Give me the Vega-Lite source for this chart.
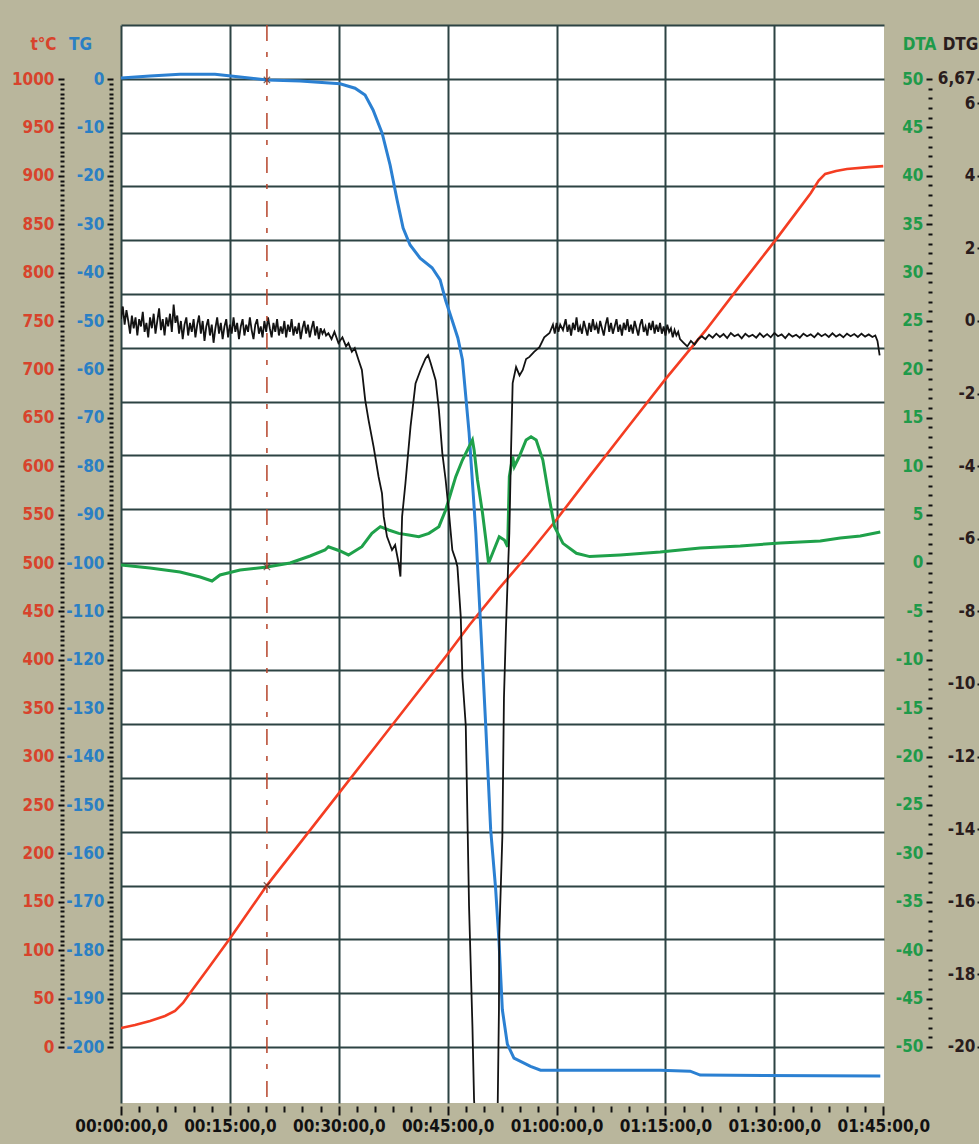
{
  "$schema": "https://vega.github.io/schema/vega-lite/v6.json",
  "width": 763,
  "height": 1078,
  "autosize": "none",
  "padding": {"left": 121, "top": 25, "right": 95, "bottom": 41},
  "background": "#b9b69c",
  "config": {
    "view": {"fill": "#ffffff", "stroke": null},
    "axis": {
      "labelFont": "Liberation Sans Narrow, Arial Narrow, DejaVu Sans Condensed, sans-serif",
      "labelFontWeight": "bold",
      "labelFontSize": 17,
      "titleFont": "Liberation Sans Narrow, Arial Narrow, DejaVu Sans Condensed, sans-serif",
      "titleFontWeight": "bold",
      "titleFontSize": 17
    }
  },
  "datasets": {
    "temp": [
      {"t": 0, "v": 19.6}, {"t": 1.93, "v": 22.7}, {"t": 4.0, "v": 26.9}, {"t": 6.06, "v": 32.0},
      {"t": 7.44, "v": 37.2}, {"t": 8.54, "v": 45.5}, {"t": 9.51, "v": 55.8}, {"t": 12, "v": 81},
      {"t": 15, "v": 112}, {"t": 20.1, "v": 167}, {"t": 25, "v": 214}, {"t": 30, "v": 262},
      {"t": 35, "v": 310}, {"t": 40, "v": 358}, {"t": 45, "v": 406}, {"t": 48, "v": 436},
      {"t": 52, "v": 473}, {"t": 56, "v": 508}, {"t": 60, "v": 545}, {"t": 64.6, "v": 590},
      {"t": 70, "v": 642}, {"t": 75, "v": 690}, {"t": 80.5, "v": 740}, {"t": 85, "v": 784},
      {"t": 90, "v": 832}, {"t": 93, "v": 862}, {"t": 95, "v": 882}, {"t": 96.1, "v": 895},
      {"t": 97.0, "v": 902}, {"t": 98.5, "v": 905}, {"t": 100, "v": 907}, {"t": 103, "v": 909},
      {"t": 105, "v": 910}
    ],
    "tg": [
      {"t": 0, "v": 0.2}, {"t": 4.0, "v": 0.6}, {"t": 8.13, "v": 1.0}, {"t": 12.95, "v": 1.0},
      {"t": 16.4, "v": 0.4}, {"t": 20.12, "v": -0.2}, {"t": 24.67, "v": -0.4}, {"t": 30.18, "v": -1.0},
      {"t": 32.24, "v": -1.9}, {"t": 33.62, "v": -3.3}, {"t": 34.72, "v": -6.4}, {"t": 35.97, "v": -11.2},
      {"t": 37.07, "v": -17.8}, {"t": 38.03, "v": -25.0}, {"t": 38.86, "v": -30.8}, {"t": 39.82, "v": -34.3},
      {"t": 41.2, "v": -37.0}, {"t": 42.85, "v": -39.0}, {"t": 43.96, "v": -41.5}, {"t": 44.71, "v": -45.7},
      {"t": 45.6, "v": -49.8}, {"t": 46.4, "v": -53.5}, {"t": 47.03, "v": -58.0}, {"t": 47.95, "v": -73.1}, {"t": 48.88, "v": -93.8},
      {"t": 49.57, "v": -113.8}, {"t": 50.24, "v": -133.6}, {"t": 50.92, "v": -155.1}, {"t": 51.6, "v": -167.2},
      {"t": 52.06, "v": -178.0}, {"t": 52.53, "v": -192.3}, {"t": 53.22, "v": -199.4}, {"t": 54.13, "v": -202.3},
      {"t": 56.41, "v": -204.0}, {"t": 57.79, "v": -204.8}, {"t": 61.87, "v": -204.8}, {"t": 74.27, "v": -204.8},
      {"t": 78.4, "v": -205.0}, {"t": 79.78, "v": -205.8}, {"t": 104.59, "v": -206.0}
    ],
    "dta": [
      {"t": 0, "v": -0.21}, {"t": 4.0, "v": -0.52}, {"t": 8.13, "v": -0.93}, {"t": 10.9, "v": -1.45},
      {"t": 12.54, "v": -1.86}, {"t": 13.64, "v": -1.24}, {"t": 16.4, "v": -0.72}, {"t": 20.12, "v": -0.41},
      {"t": 23.29, "v": 0.0}, {"t": 26.04, "v": 0.72}, {"t": 28.1, "v": 1.34}, {"t": 28.57, "v": 1.68},
      {"t": 30.18, "v": 1.24}, {"t": 31.33, "v": 0.83}, {"t": 33.18, "v": 1.68}, {"t": 34.56, "v": 3.06},
      {"t": 35.72, "v": 3.75}, {"t": 36.87, "v": 3.41}, {"t": 38.25, "v": 3.06}, {"t": 39.64, "v": 2.89},
      {"t": 41.02, "v": 2.72}, {"t": 42.41, "v": 3.06}, {"t": 43.79, "v": 3.75}, {"t": 44.72, "v": 5.47},
      {"t": 45.42, "v": 7.2}, {"t": 46.11, "v": 8.92}, {"t": 47.03, "v": 10.64}, {"t": 47.72, "v": 11.67},
      {"t": 48.41, "v": 12.71}, {"t": 48.64, "v": 11.67}, {"t": 49.11, "v": 8.57}, {"t": 49.8, "v": 5.13},
      {"t": 50.26, "v": 2.38}, {"t": 50.63, "v": -0.03}, {"t": 51.18, "v": 1.0}, {"t": 52.1, "v": 2.72},
      {"t": 52.8, "v": 2.38}, {"t": 53.26, "v": 1.68}, {"t": 53.49, "v": 8.92}, {"t": 53.95, "v": 11.0},
      {"t": 54.18, "v": 9.95}, {"t": 54.87, "v": 11.0}, {"t": 55.8, "v": 12.71}, {"t": 56.48, "v": 13.05},
      {"t": 57.19, "v": 12.71}, {"t": 58.11, "v": 10.64}, {"t": 59.03, "v": 6.51}, {"t": 59.72, "v": 3.75},
      {"t": 60.88, "v": 2.03}, {"t": 62.73, "v": 1.0}, {"t": 64.57, "v": 0.66}, {"t": 68.76, "v": 0.83},
      {"t": 74.27, "v": 1.14}, {"t": 79.78, "v": 1.55}, {"t": 85.3, "v": 1.76}, {"t": 90.81, "v": 2.07},
      {"t": 96.32, "v": 2.27}, {"t": 99.08, "v": 2.58}, {"t": 101.83, "v": 2.79}, {"t": 104.59, "v": 3.2}
    ],
    "dtg": [
      {"t": 0, "v": 0.05}, {"t": 0.25, "v": 0.4}, {"t": 0.5, "v": -0.1}, {"t": 0.75, "v": 0.3},
      {"t": 1.0, "v": 0.0}, {"t": 1.25, "v": -0.35}, {"t": 1.5, "v": 0.15}, {"t": 1.75, "v": -0.2},
      {"t": 2.0, "v": 0.1}, {"t": 2.25, "v": -0.4}, {"t": 2.5, "v": 0.05}, {"t": 2.75, "v": -0.15},
      {"t": 3.0, "v": 0.25}, {"t": 3.25, "v": -0.3}, {"t": 3.5, "v": -0.05}, {"t": 3.75, "v": -0.45},
      {"t": 4.0, "v": 0.1}, {"t": 4.25, "v": -0.2}, {"t": 4.5, "v": 0.2}, {"t": 4.75, "v": -0.35},
      {"t": 5.0, "v": 0.0}, {"t": 5.25, "v": 0.35}, {"t": 5.5, "v": -0.25}, {"t": 5.75, "v": 0.05},
      {"t": 6.0, "v": -0.4}, {"t": 6.25, "v": 0.1}, {"t": 6.5, "v": -0.15}, {"t": 6.75, "v": 0.2},
      {"t": 7.0, "v": -0.3}, {"t": 7.25, "v": 0.45}, {"t": 7.5, "v": -0.05}, {"t": 7.75, "v": 0.15},
      {"t": 8.0, "v": -0.35}, {"t": 8.25, "v": 0.0}, {"t": 8.5, "v": -0.5}, {"t": 8.75, "v": -0.1},
      {"t": 9.0, "v": 0.1}, {"t": 9.25, "v": -0.4}, {"t": 9.5, "v": -0.05}, {"t": 9.75, "v": -0.3},
      {"t": 10.0, "v": 0.05}, {"t": 10.25, "v": -0.45}, {"t": 10.5, "v": -0.1}, {"t": 10.75, "v": 0.15},
      {"t": 11.0, "v": -0.35}, {"t": 11.25, "v": 0.0}, {"t": 11.5, "v": -0.55}, {"t": 11.75, "v": -0.15},
      {"t": 12.0, "v": 0.05}, {"t": 12.25, "v": -0.4}, {"t": 12.5, "v": -0.1}, {"t": 12.75, "v": -0.6},
      {"t": 13.0, "v": -0.2}, {"t": 13.25, "v": 0.1}, {"t": 13.5, "v": -0.35}, {"t": 13.75, "v": -0.05},
      {"t": 14.0, "v": -0.5}, {"t": 14.25, "v": -0.15}, {"t": 14.5, "v": 0.05}, {"t": 14.75, "v": -0.45},
      {"t": 15.0, "v": -0.1}, {"t": 15.25, "v": -0.35}, {"t": 15.5, "v": 0.1}, {"t": 15.75, "v": -0.3},
      {"t": 16.0, "v": -0.05}, {"t": 16.25, "v": -0.5}, {"t": 16.5, "v": -0.15}, {"t": 16.75, "v": 0.05},
      {"t": 17.0, "v": -0.4}, {"t": 17.25, "v": -0.1}, {"t": 17.5, "v": -0.3}, {"t": 17.75, "v": 0.1},
      {"t": 18.0, "v": -0.25}, {"t": 18.25, "v": -0.5}, {"t": 18.5, "v": -0.1}, {"t": 18.75, "v": 0.05},
      {"t": 19.0, "v": -0.35}, {"t": 19.25, "v": -0.15}, {"t": 19.5, "v": -0.45}, {"t": 19.75, "v": 0.0},
      {"t": 20.0, "v": -0.3}, {"t": 20.25, "v": 0.1}, {"t": 20.5, "v": -0.2}, {"t": 20.75, "v": -0.45},
      {"t": 21.0, "v": -0.05}, {"t": 21.25, "v": -0.3}, {"t": 21.5, "v": 0.05}, {"t": 21.75, "v": -0.4},
      {"t": 22.0, "v": -0.15}, {"t": 22.25, "v": -0.35}, {"t": 22.5, "v": 0.0}, {"t": 22.75, "v": -0.45},
      {"t": 23.0, "v": -0.1}, {"t": 23.25, "v": -0.3}, {"t": 23.5, "v": 0.05}, {"t": 23.75, "v": -0.4},
      {"t": 24.0, "v": -0.15}, {"t": 24.25, "v": -0.35}, {"t": 24.5, "v": -0.05}, {"t": 24.75, "v": -0.5},
      {"t": 25.0, "v": -0.2}, {"t": 25.25, "v": 0.0}, {"t": 25.5, "v": -0.35}, {"t": 25.75, "v": -0.1},
      {"t": 26.0, "v": -0.45}, {"t": 26.25, "v": -0.2}, {"t": 26.5, "v": 0.0}, {"t": 26.75, "v": -0.4},
      {"t": 27.0, "v": -0.15}, {"t": 27.25, "v": -0.5}, {"t": 27.5, "v": -0.2}, {"t": 27.75, "v": -0.35},
      {"t": 28.0, "v": -0.25}, {"t": 28.25, "v": -0.4}, {"t": 28.57, "v": -0.34}, {"t": 29.0, "v": -0.5},
      {"t": 29.4, "v": -0.3}, {"t": 29.95, "v": -0.61}, {"t": 30.5, "v": -0.45}, {"t": 31.0, "v": -0.7},
      {"t": 31.33, "v": -0.61}, {"t": 31.8, "v": -0.85}, {"t": 32.2, "v": -0.75},
      {"t": 32.71, "v": -1.07}, {"t": 33.18, "v": -1.35}, {"t": 33.64, "v": -2.18},
      {"t": 34.1, "v": -2.73}, {"t": 34.79, "v": -3.46}, {"t": 35.48, "v": -4.29}, {"t": 35.95, "v": -4.75},
      {"t": 36.19, "v": -5.39}, {"t": 36.64, "v": -5.94}, {"t": 37.33, "v": -6.31}, {"t": 37.76, "v": -6.17},
      {"t": 38.25, "v": -6.68}, {"t": 38.49, "v": -7.04}, {"t": 38.72, "v": -5.39}, {"t": 39.18, "v": -4.47},
      {"t": 39.88, "v": -2.91}, {"t": 40.57, "v": -1.72}, {"t": 41.26, "v": -1.35}, {"t": 41.95, "v": -1.03},
      {"t": 42.3, "v": -0.94}, {"t": 42.65, "v": -1.16}, {"t": 43.34, "v": -1.63}, {"t": 43.79, "v": -2.45},
      {"t": 44.26, "v": -3.64}, {"t": 44.72, "v": -4.38}, {"t": 45.18, "v": -5.3}, {"t": 45.64, "v": -6.31},
      {"t": 46.1, "v": -6.58}, {"t": 46.34, "v": -6.77}, {"t": 46.8, "v": -8.15}, {"t": 47.03, "v": -9.82},
      {"t": 47.49, "v": -11.15}, {"t": 47.94, "v": -16.11}, {"t": 48.41, "v": -19.44}, {"t": 48.63, "v": -21.44},
      {"t": 48.92, "v": -22.56}, {"t": 50.3, "v": -23.1}, {"t": 51.84, "v": -22.56}, {"t": 51.9, "v": -21.44},
      {"t": 52.06, "v": -18.97}, {"t": 52.1, "v": -16.97}, {"t": 52.53, "v": -14.2}, {"t": 52.75, "v": -10.39},
      {"t": 53.02, "v": -8.51}, {"t": 53.22, "v": -7.34}, {"t": 53.49, "v": -5.84}, {"t": 53.73, "v": -3.55},
      {"t": 53.95, "v": -1.71}, {"t": 54.42, "v": -1.27}, {"t": 54.9, "v": -1.5}, {"t": 55.34, "v": -1.35},
      {"t": 55.8, "v": -1.05}, {"t": 56.26, "v": -0.99}, {"t": 56.9, "v": -0.85}, {"t": 57.64, "v": -0.72},
      {"t": 58.3, "v": -0.45}, {"t": 59.03, "v": -0.33}, {"t": 59.5, "v": -0.1}, {"t": 59.75, "v": -0.35},
      {"t": 60.0, "v": -0.05}, {"t": 60.25, "v": -0.3}, {"t": 60.5, "v": -0.1}, {"t": 60.88, "v": -0.25},
      {"t": 61.25, "v": 0.05}, {"t": 61.5, "v": -0.3}, {"t": 61.75, "v": -0.1}, {"t": 62.0, "v": -0.4},
      {"t": 62.25, "v": -0.05}, {"t": 62.5, "v": -0.25}, {"t": 62.75, "v": 0.1}, {"t": 63.0, "v": -0.3},
      {"t": 63.25, "v": -0.15}, {"t": 63.5, "v": -0.35}, {"t": 63.75, "v": 0.0}, {"t": 64.0, "v": -0.2},
      {"t": 64.25, "v": -0.4}, {"t": 64.5, "v": -0.05}, {"t": 64.75, "v": -0.3}, {"t": 65.0, "v": 0.05},
      {"t": 65.25, "v": -0.25}, {"t": 65.5, "v": -0.1}, {"t": 65.75, "v": -0.35}, {"t": 66.0, "v": 0.0},
      {"t": 66.25, "v": -0.2}, {"t": 66.5, "v": -0.4}, {"t": 66.75, "v": -0.1}, {"t": 67.0, "v": 0.1},
      {"t": 67.25, "v": -0.3}, {"t": 67.5, "v": -0.05}, {"t": 67.75, "v": -0.35}, {"t": 68.0, "v": -0.15},
      {"t": 68.25, "v": 0.05}, {"t": 68.5, "v": -0.3}, {"t": 68.75, "v": -0.1}, {"t": 69.0, "v": -0.4},
      {"t": 69.25, "v": -0.05}, {"t": 69.5, "v": -0.25}, {"t": 69.75, "v": 0.05}, {"t": 70.0, "v": -0.3},
      {"t": 70.25, "v": -0.1}, {"t": 70.5, "v": -0.35}, {"t": 70.75, "v": 0.0}, {"t": 71.0, "v": -0.2},
      {"t": 71.25, "v": -0.4}, {"t": 71.5, "v": -0.1}, {"t": 71.75, "v": 0.05}, {"t": 72.0, "v": -0.3},
      {"t": 72.25, "v": -0.15}, {"t": 72.5, "v": -0.4}, {"t": 72.75, "v": -0.05}, {"t": 73.0, "v": -0.25},
      {"t": 73.25, "v": 0.0}, {"t": 73.5, "v": -0.35}, {"t": 73.75, "v": -0.1}, {"t": 74.0, "v": -0.3},
      {"t": 74.25, "v": -0.05}, {"t": 74.5, "v": -0.35}, {"t": 74.75, "v": -0.15}, {"t": 75.0, "v": -0.4},
      {"t": 75.25, "v": -0.1}, {"t": 75.5, "v": -0.3}, {"t": 75.75, "v": -0.2}, {"t": 76.0, "v": -0.45},
      {"t": 76.25, "v": -0.25}, {"t": 76.5, "v": -0.4}, {"t": 76.75, "v": -0.3}, {"t": 77.0, "v": -0.5},
      {"t": 77.5, "v": -0.6}, {"t": 78.0, "v": -0.7}, {"t": 78.5, "v": -0.55}, {"t": 79.0, "v": -0.65},
      {"t": 79.5, "v": -0.5}, {"t": 80.0, "v": -0.42}, {"t": 80.5, "v": -0.5}, {"t": 81.0, "v": -0.38},
      {"t": 81.5, "v": -0.46}, {"t": 82.0, "v": -0.35}, {"t": 82.5, "v": -0.44}, {"t": 83.0, "v": -0.36},
      {"t": 83.5, "v": -0.47}, {"t": 84.0, "v": -0.33}, {"t": 84.5, "v": -0.42}, {"t": 85.0, "v": -0.37},
      {"t": 85.5, "v": -0.48}, {"t": 86.0, "v": -0.35}, {"t": 86.5, "v": -0.43}, {"t": 87.0, "v": -0.38},
      {"t": 87.5, "v": -0.46}, {"t": 88.0, "v": -0.34}, {"t": 88.5, "v": -0.44}, {"t": 89.0, "v": -0.36},
      {"t": 89.5, "v": -0.45}, {"t": 90.0, "v": -0.33}, {"t": 90.5, "v": -0.42}, {"t": 91.0, "v": -0.37},
      {"t": 91.5, "v": -0.47}, {"t": 92.0, "v": -0.35}, {"t": 92.5, "v": -0.43}, {"t": 93.0, "v": -0.38},
      {"t": 93.5, "v": -0.46}, {"t": 94.0, "v": -0.35}, {"t": 94.5, "v": -0.42}, {"t": 95.0, "v": -0.37},
      {"t": 95.5, "v": -0.45}, {"t": 96.0, "v": -0.34}, {"t": 96.5, "v": -0.42}, {"t": 97.0, "v": -0.36},
      {"t": 97.5, "v": -0.44}, {"t": 98.0, "v": -0.34}, {"t": 98.5, "v": -0.43}, {"t": 99.0, "v": -0.37},
      {"t": 99.5, "v": -0.45}, {"t": 100.0, "v": -0.35}, {"t": 100.5, "v": -0.42}, {"t": 101.0, "v": -0.36},
      {"t": 101.5, "v": -0.44}, {"t": 102.0, "v": -0.35}, {"t": 102.5, "v": -0.43}, {"t": 103.0, "v": -0.37},
      {"t": 103.5, "v": -0.44}, {"t": 103.9, "v": -0.4}, {"t": 104.2, "v": -0.55}, {"t": 104.5, "v": -0.95}
    ]
  },
  "encoding": {
    "x": {
      "field": "t",
      "type": "quantitative",
      "scale": {"domain": [0, 105.1], "nice": false, "zero": false},
      "axis": {
        "orient": "bottom",
        "offset": 3,
        "domain": false,
        "values": [0, 2.5, 5, 7.5, 10, 12.5, 15, 17.5, 20, 22.5, 25, 27.5, 30, 32.5, 35, 37.5, 40, 42.5, 45, 47.5, 50, 52.5, 55, 57.5, 60, 62.5, 65, 67.5, 70, 72.5, 75, 77.5, 80, 82.5, 85, 87.5, 90, 92.5, 95, 97.5, 100, 102.5, 105],
        "grid": true,
        "gridColor": "#2c4343",
        "gridWidth": 2,
        "gridOpacity": {"condition": {"test": "datum.value % 15 === 0 && datum.value < 105", "value": 1}, "value": 0},
        "tickColor": "#111111",
        "tickWidth": 2,
        "tickSize": {"condition": {"test": "datum.value % 15 === 0", "value": 9}, "value": 6},
        "labelExpr": "datum.value % 15 === 0 ? ((datum.value < 600 ? '0' : '') + floor(datum.value / 60) + ':' + (datum.value % 60 < 10 ? '0' : '') + (datum.value % 60) + ':00,0') : ''",
        "labelColor": "#111111",
        "labelPadding": 3,
        "labelOverlap": false,
        "labelFlush": false,
        "labelBound": false,
        "title": null
      }
    }
  },
  "layer": [
    {
      "data": {"values": [{"t": 50, "g": 5}]},
      "mark": {"type": "point", "opacity": 0},
      "encoding": {
        "y": {
          "field": "g",
          "type": "quantitative",
          "scale": {"domain": [-1.041, 19], "nice": false, "zero": false},
          "axis": {
            "orient": "left",
            "grid": true,
            "labels": false,
            "ticks": false,
            "domain": false,
            "tickCount": 20,
            "gridColor": "#2c4343",
            "gridWidth": 2,
            "gridOpacity": {"condition": {"test": "datum.value < 0", "value": 0}, "value": 1},
            "title": null
          }
        }
      }
    },
    {
      "data": {"name": "temp"},
      "layer": [
        {
          "mark": {"type": "line", "color": "#f43d22", "strokeWidth": 2.6, "clip": true},
          "encoding": {
            "y": {
              "field": "v",
              "type": "quantitative",
              "scale": {"domain": [-57.85, 1055.8], "nice": false, "zero": false},
              "axis": {
                "orient": "left",
                "offset": 57,
                "domain": false,
                "grid": false,
                "tickCount": 222,
                "tickColor": "#111111",
                "tickWidth": 2,
                "tickSize": {"condition": {"test": "datum.value % 50 === 0", "value": 6}, "value": 4},
                "tickOpacity": {"condition": {"test": "datum.value < 0 || datum.value > 1000", "value": 0}, "value": 1},
                "labelExpr": "datum.value % 50 === 0 && datum.value >= 0 && datum.value <= 1000 ? '' + datum.value : ''",
                "labelColor": "#d8432c",
                "labelPadding": 4,
                "labelOverlap": false,
                "labelBound": false,
                "labelFlush": false,
                "title": "t°C",
                "titleColor": "#d8432c",
                "titleAngle": 0,
                "titleX": -21,
                "titleY": 24,
                "titleAlign": "center",
                "titleBaseline": "alphabetic"
              }
            }
          }
        },
        {
          "data": {"values": [{"t": 20.1, "v": 167}]},
          "mark": {"type": "point", "shape": "M-1,-1L1,1M-1,1L1,-1", "size": 40, "filled": false, "color": "#4a2a20", "strokeWidth": 1.3},
          "encoding": {"y": {"field": "v", "type": "quantitative"}}
        }
      ]
    },
    {
      "data": {"name": "tg"},
      "layer": [
        {
          "mark": {"type": "line", "color": "#2b80d2", "strokeWidth": 3, "clip": true},
          "encoding": {
            "y": {
              "field": "v",
              "type": "quantitative",
              "scale": {"domain": [-211.57, 11.16], "nice": false, "zero": false},
              "axis": {
                "orient": "left",
                "offset": 8,
                "domain": false,
                "grid": false,
                "tickCount": 222,
                "tickColor": "#111111",
                "tickWidth": 2,
                "tickSize": {"condition": {"test": "datum.value % 10 === 0", "value": 6}, "value": 4},
                "tickOpacity": {"condition": {"test": "datum.value < -200 || datum.value > 0", "value": 0}, "value": 1},
                "labelExpr": "datum.value % 10 === 0 && datum.value >= -200 && datum.value <= 0 ? '' + datum.value : ''",
                "labelColor": "#2a7fc4",
                "labelPadding": 3,
                "labelOverlap": false,
                "labelBound": false,
                "labelFlush": false,
                "title": "TG",
                "titleColor": "#2a7fc4",
                "titleAngle": 0,
                "titleX": -33,
                "titleY": 24,
                "titleAlign": "center",
                "titleBaseline": "alphabetic"
              }
            }
          }
        },
        {
          "data": {"values": [{"t": 20.1, "v": -0.2}]},
          "mark": {"type": "point", "shape": "M-1,-1L1,1M-1,1L1,-1", "size": 40, "filled": false, "color": "#4a2a20", "strokeWidth": 1.3},
          "encoding": {"y": {"field": "v", "type": "quantitative"}}
        }
      ]
    },
    {
      "data": {"name": "dta"},
      "layer": [
        {
          "mark": {"type": "line", "color": "#1fa14a", "strokeWidth": 3, "clip": true},
          "encoding": {
            "y": {
              "field": "v",
              "type": "quantitative",
              "scale": {"domain": [-55.79, 55.58], "nice": false, "zero": false},
              "axis": {
                "orient": "left",
                "offset": -811,
                "domain": false,
                "grid": false,
                "tickCount": 111,
                "tickColor": "#111111",
                "tickWidth": 2,
                "tickSize": {"condition": {"test": "datum.value % 5 === 0", "value": 6}, "value": 4},
                "tickOpacity": {"condition": {"test": "datum.value < -50 || datum.value > 50", "value": 0}, "value": 1},
                "labelExpr": "datum.value % 5 === 0 && datum.value >= -50 && datum.value <= 50 ? '' + datum.value : ''",
                "labelColor": "#1f9a4a",
                "labelPadding": 3,
                "labelOverlap": false,
                "labelBound": false,
                "labelFlush": false,
                "title": "DTA",
                "titleColor": "#1f9a4a",
                "titleAngle": 0,
                "titleX": -13,
                "titleY": 24,
                "titleAlign": "center",
                "titleBaseline": "alphabetic"
              }
            }
          }
        },
        {
          "data": {"values": [{"t": 20.1, "v": -0.41}]},
          "mark": {"type": "point", "shape": "M-1,-1L1,1M-1,1L1,-1", "size": 40, "filled": false, "color": "#4a2a20", "strokeWidth": 1.3},
          "encoding": {"y": {"field": "v", "type": "quantitative"}}
        }
      ]
    },
    {
      "data": {"name": "dtg"},
      "mark": {"type": "line", "color": "#131313", "strokeWidth": 1.8, "clip": true},
      "encoding": {
        "y": {
          "field": "v",
          "type": "quantitative",
          "scale": {"domain": [-21.543, 8.154], "nice": false, "zero": false},
          "axis": {
            "orient": "left",
            "offset": -862,
            "domain": false,
            "grid": false,
            "values": [6.67, 6, 4, 2, 0, -2, -4, -6, -8, -10, -12, -14, -16, -18, -20],
            "tickColor": "#111111",
            "tickWidth": 2,
            "tickSize": 6,
            "labelExpr": "datum.value === 6.67 ? '6,67' : '' + datum.value",
            "labelColor": "#2a1c1c",
            "labelPadding": 2,
            "labelOverlap": false,
            "labelBound": false,
            "labelFlush": false,
            "title": "DTG",
            "titleColor": "#2a1c1c",
            "titleAngle": 0,
            "titleX": -23,
            "titleY": 24,
            "titleAlign": "center",
            "titleBaseline": "alphabetic"
          }
        }
      }
    },
    {
      "data": {"values": [{"t": 20.1}]},
      "mark": {"type": "rule", "color": "#b5432a", "strokeWidth": 1.5, "strokeDash": [16, 11, 5, 12]},
      "encoding": {}
    }
  ],
  "resolve": {"scale": {"y": "independent"}}
}
